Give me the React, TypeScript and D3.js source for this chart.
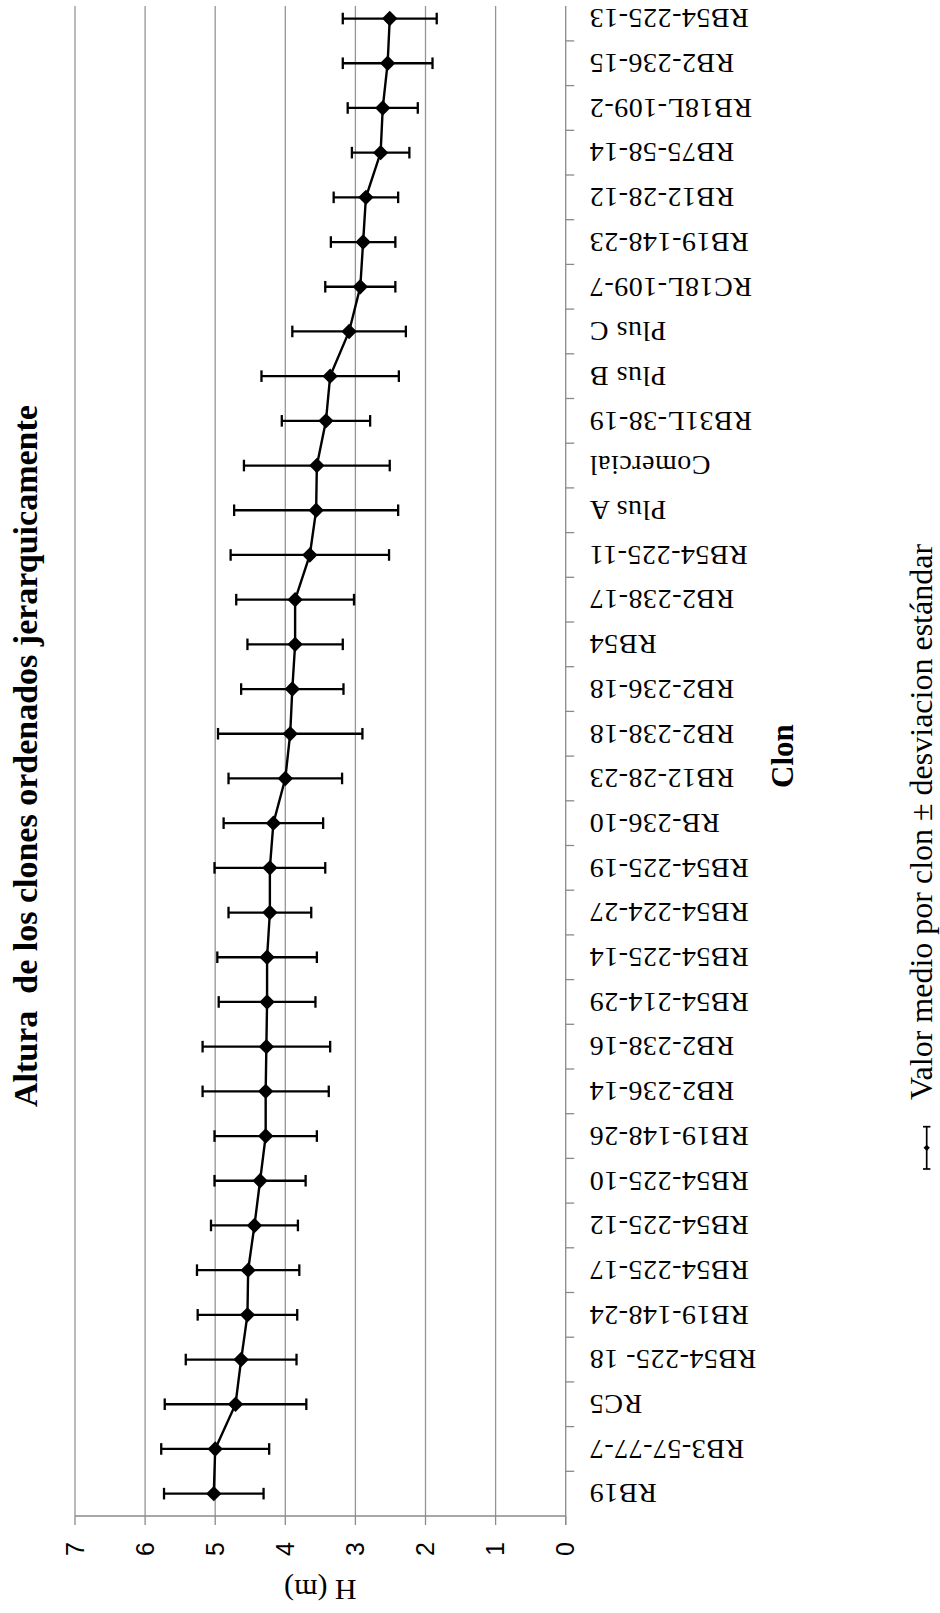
import React from "react";
import * as d3 from "d3";

const categories = [
  "RB19", "RB3-57-77-7", "RC5", "RB54-225- 18", "RB19-148-24", "RB54-225-17",
  "RB54-225-12", "RB54-225-10", "RB19-148-26", "RB2-236-14", "RB2-238-16",
  "RB54-214-29", "RB54-225-14", "RB54-224-27", "RB54-225-19", "RB-236-10",
  "RB12-28-23", "RB2-238-18", "RB2-236-18", "RB54", "RB2-238-17", "RB54-225-11",
  "Plus A", "Comercial", "RB31L-38-19", "Plus B", "Plus C", "RC18L-109-7",
  "RB19-148-23", "RB12-28-12", "RB75-58-14", "RB18L-109-2", "RB2-236-15", "RB54-225-13",
];

const means = [
  5.02, 5.0, 4.71, 4.63, 4.54, 4.53, 4.44, 4.36, 4.28, 4.28, 4.27, 4.26, 4.26, 4.22,
  4.22, 4.17, 4.0, 3.93, 3.9, 3.86, 3.86, 3.65, 3.56, 3.55, 3.42, 3.36, 3.09, 2.93,
  2.89, 2.85, 2.64, 2.61, 2.54, 2.51,
];

const sds = [
  0.71, 0.77, 1.01, 0.79, 0.71, 0.73, 0.62, 0.65, 0.73, 0.9, 0.91, 0.69, 0.71, 0.59,
  0.79, 0.71, 0.81, 1.03, 0.73, 0.68, 0.84, 1.13, 1.17, 1.04, 0.63, 0.98, 0.81, 0.5,
  0.46, 0.46, 0.41, 0.5, 0.64, 0.67,
];

const valueTicks = [0, 1, 2, 3, 4, 5, 6, 7];

const title = "Altura  de los clones ordenados jerarquicamente";
const valueTitle = "H (m)";
const categoryTitle = "Clon";
const legendLabel = "Valor medio por clon ± desviacion estándar";

const W = 940;
const H = 1613;
const plotLeft = 75;
const plotRight = 565.7;
const plotBottom = 1516;
const plotTop = -3.8;
const gridTop = 6;

export default function App() {
  const x = d3.scaleLinear().domain([0, 7]).range([plotRight, plotLeft]);
  const y = d3.scaleBand<string>().domain(categories).range([plotBottom, plotTop]).padding(0);
  const bw = y.bandwidth();
  const cy = (c: string) => (y(c) as number) + bw / 2;

  const data = categories.map((c, i) => ({ c, v: means[i], sd: sds[i] }));
  const line = d3
    .line<{ c: string; v: number }>()
    .x((d) => x(d.v))
    .y((d) => cy(d.c));
  const diamond = d3.symbol().type(d3.symbolSquare).size(118)() as string;
  const legendDiamond = d3.symbol().type(d3.symbolSquare).size(20)() as string;

  const boundaries = d3.range(categories.length).map((i) => (y(categories[i]) as number));

  const capHalf = 5.8;
  const serif = "'Liberation Serif', 'Times New Roman', serif";
  const sans = "'Liberation Sans', Arial, sans-serif";

  return (
    <svg
      width={W}
      height={H}
      style={{ position: "absolute", left: 0, top: 0, background: "#fff" }}
    >
      <rect x={0} y={0} width={W} height={H} fill="#fff" />
      {/* gridlines */}
      {valueTicks.slice(1).map((t) => (
        <line key={"g" + t} x1={x(t)} x2={x(t)} y1={gridTop} y2={plotBottom} stroke="#959595" strokeWidth={1.3} />
      ))}
      {/* value axis */}
      <line x1={plotLeft} x2={plotRight} y1={plotBottom} y2={plotBottom} stroke="#8a8a8a" strokeWidth={1.3} />
      {valueTicks.map((t) => (
        <line key={"vt" + t} x1={x(t)} x2={x(t)} y1={plotBottom} y2={plotBottom + 9} stroke="#8a8a8a" strokeWidth={1.3} />
      ))}
      {valueTicks.map((t) => (
        <text
          key={"vl" + t}
          transform={`translate(${x(t)},${plotBottom + 33}) rotate(-90)`}
          textAnchor="middle"
          dy="0.35em"
          fontFamily={sans}
          fontSize={25}
          fill="#000"
        >
          {t}
        </text>
      ))}
      <text
        transform={`translate(${(plotLeft + plotRight) / 2},${plotBottom + 74}) rotate(180)`}
        textAnchor="middle"
        dy="0.35em"
        fontFamily={serif}
        fontSize={30}
        fill="#000"
      >
        {valueTitle}
      </text>
      {/* category axis */}
      <line x1={plotRight} x2={plotRight} y1={gridTop} y2={plotBottom + 9} stroke="#8a8a8a" strokeWidth={1.3} />
      {boundaries.map((b, i) =>
        b > gridTop ? (
          <line key={"ct" + i} x1={plotRight} x2={plotRight + 8.5} y1={b} y2={b} stroke="#8a8a8a" strokeWidth={1.3} />
        ) : null
      )}
      {categories.map((c) => (
        <text
          key={"cl" + c}
          transform={`translate(${plotRight + 23.6},${cy(c)}) rotate(180)`}
          textAnchor="end"
          dy="0.33em"
          fontFamily={serif}
          fontSize={28}
          letterSpacing={0.5}
          fill="#000"
        >
          {c}
        </text>
      ))}
      <text
        transform={`translate(792.7,${(plotTop + plotBottom) / 2}) rotate(-90)`}
        textAnchor="middle"
        fontFamily={serif}
        fontWeight="bold"
        fontSize={31}
        fill="#000"
      >
        {categoryTitle}
      </text>
      {/* title */}
      <text
        transform={`translate(36.7,${(plotTop + plotBottom) / 2}) rotate(-90)`}
        textAnchor="middle"
        fontFamily={serif}
        fontWeight="bold"
        fontSize={34}
        fill="#000"
        style={{ whiteSpace: "pre" }}
      >
        {title}
      </text>
      {/* error bars */}
      {data.map((d) => {
        const yy = cy(d.c);
        const x1 = x(d.v - d.sd);
        const x2 = x(d.v + d.sd);
        return (
          <g key={"e" + d.c} stroke="#000" strokeWidth={2.3}>
            <line x1={x1} x2={x2} y1={yy} y2={yy} />
            <line x1={x1} x2={x1} y1={yy - capHalf} y2={yy + capHalf} />
            <line x1={x2} x2={x2} y1={yy - capHalf} y2={yy + capHalf} />
          </g>
        );
      })}
      {/* mean line */}
      <path d={line(data) as string} fill="none" stroke="#000" strokeWidth={2.4} />
      {data.map((d) => (
        <path key={"m" + d.c} d={diamond} transform={`translate(${x(d.v)},${cy(d.c)}) rotate(45)`} fill="#000" />
      ))}
      {/* legend */}
      <g stroke="#000" strokeWidth={1.7}>
        <line x1={926.7} x2={926.7} y1={1126.7} y2={1169} />
        <line x1={923} x2={930.4} y1={1126.7} y2={1126.7} />
        <line x1={923} x2={930.4} y1={1169} y2={1169} />
      </g>
      <path d={legendDiamond} transform={`translate(926.7,1147.8) rotate(45)`} fill="#000" />
      <text
        transform="translate(931.5,1100) rotate(-90)"
        textAnchor="start"
        fontFamily={serif}
        fontSize={32}
        fill="#000"
      >
        {legendLabel}
      </text>
    </svg>
  );
}
